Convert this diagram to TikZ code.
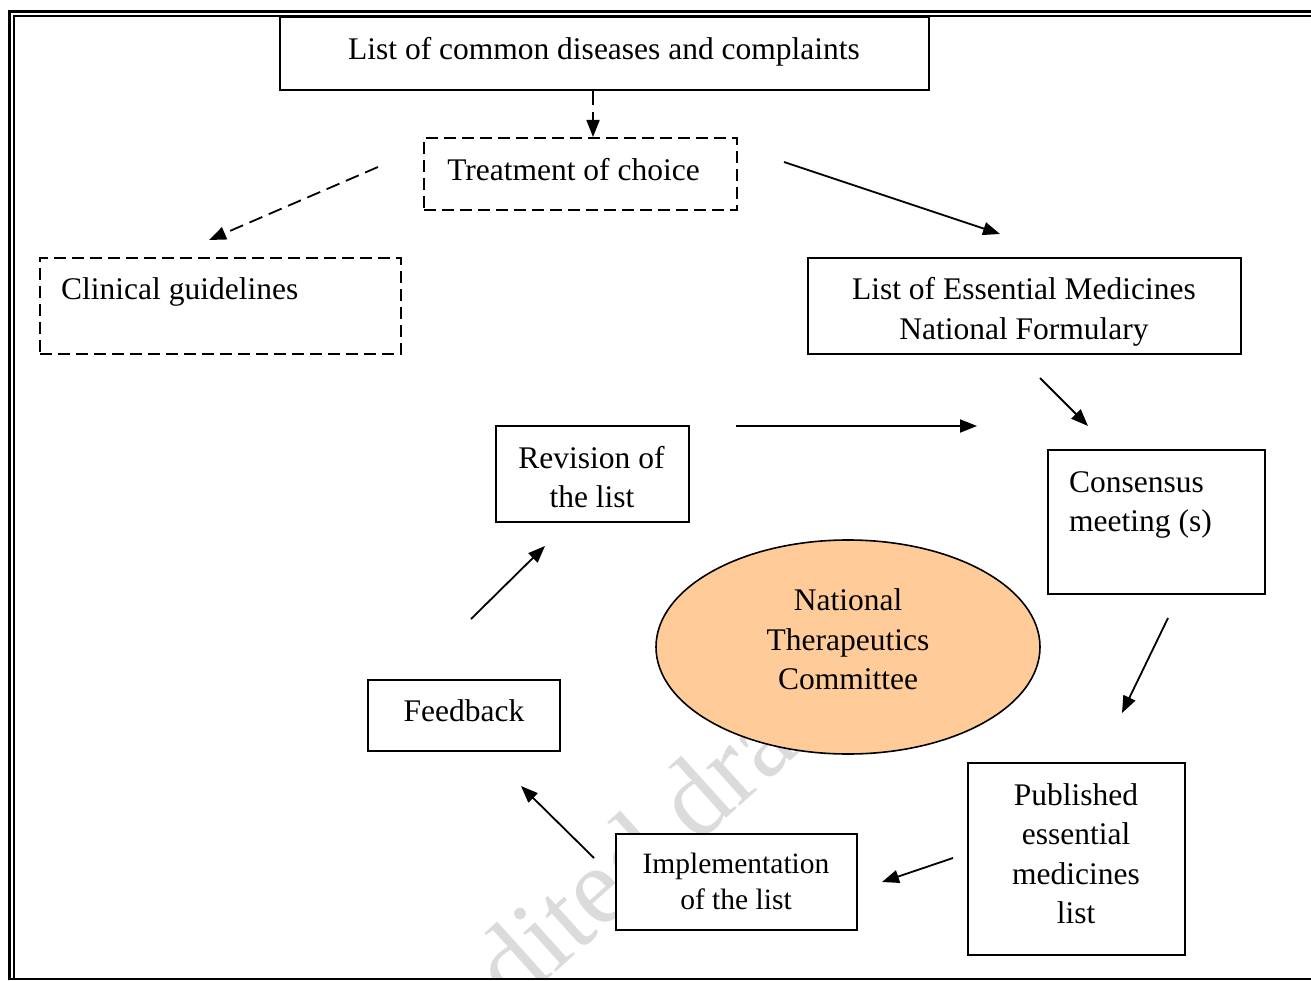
\documentclass[tikz,border=0pt]{standalone}
\usepackage{fontspec}
\setmainfont{Liberation Serif}
\usetikzlibrary{arrows.meta,shapes.geometric}
\definecolor{peach}{HTML}{FFCC99}
\definecolor{wmark}{gray}{0.86}

\begin{document}
\begin{tikzpicture}[x=1pt,y=-1pt,
  box/.style={draw=black,line width=1.6pt,fill=white,inner sep=0pt},
  dbox/.style={box,dash pattern=on 12pt off 6pt},
  lbl/.style={anchor=base,inner sep=0pt,font=\fontsize{31.5}{39}\selectfont},
  lbll/.style={lbl,anchor=base west},
  lbls/.style={lbl,font=\fontsize{29.5}{36}\selectfont},
  flow/.style={line width=1.8pt,-{Triangle[length=17pt,width=13pt]}},
  dflow/.style={flow,dash pattern=on 14pt off 7pt},
  wm/.style={text=wmark,inner sep=0pt,font=\fontsize{110}{110}\selectfont},
]
\useasboundingbox (0,0) rectangle (1311,981);

% faint draft stamp behind the chart
\begin{scope}
  \clip (15.5,17.5) rectangle (1311,977.5);
  \node[wm,rotate=42] (stamp) at (589,891) {Unedited draft};
\end{scope}

% page frame: thick outer rule, thin inner rule
\draw[line width=2.8pt] (9.7,980.3) -- (9.7,11.2) -- (1320,11.2);
\draw[line width=2pt] (14.3,978) -- (14.3,16.2) -- (1320,16.2);
\draw[line width=2.6pt] (9.7,979) -- (1320,979);

% boxes
\node[box,minimum width=649pt,minimum height=73pt] (dis) at (604.5,53.5) {};
\node[dbox,minimum width=313pt,minimum height=72pt] (treat) at (580.5,174) {};
\node[dbox,minimum width=361pt,minimum height=96pt] (clin) at (220.5,306) {};
\node[box,minimum width=433pt,minimum height=96pt] (eml) at (1024.5,306) {};
\node[box,minimum width=193pt,minimum height=96pt] (rev) at (592.5,474) {};
\node[box,minimum width=217pt,minimum height=144pt] (cons) at (1156.5,522) {};
\node[box,ellipse,fill=peach,minimum width=384pt,minimum height=214pt] (ntc) at (848,647) {};
\node[box,minimum width=192pt,minimum height=71pt] (feed) at (464,715.5) {};
\node[box,minimum width=241pt,minimum height=96pt] (impl) at (736.5,882) {};
\node[box,minimum width=217pt,minimum height=192pt] (pub) at (1076.5,859) {};

% box texts
\node[lbl] (dis-t) at (604,60) {List of common diseases and complaints};
\node[lbl] (treat-t) at (573.5,181) {Treatment of choice};
\node[lbll] (clin-t) at (61,300) {Clinical guidelines};
\node[lbl] (eml-t1) at (1024,300) {List of Essential Medicines};
\node[lbl] (eml-t2) at (1024,339) {National Formulary};
\node[lbl] (rev-t1) at (591.5,468) {Revision of};
\node[lbl] (rev-t2) at (592,507) {the list};
\node[lbll] (cons-t1) at (1069,492) {Consensus};
\node[lbll] (cons-t2) at (1069,531) {meeting (s)};
\node[lbl] (ntc-t1) at (848,610) {National};
\node[lbl] (ntc-t2) at (848,650) {Therapeutics};
\node[lbl] (ntc-t3) at (848,689) {Committee};
\node[lbl] (feed-t) at (464,721) {Feedback};
\node[lbls] (impl-t1) at (736,873) {Implementation};
\node[lbls] (impl-t2) at (736,909) {of the list};
\node[lbl] (pub-t1) at (1076,805) {Published};
\node[lbl] (pub-t2) at (1076,844) {essential};
\node[lbl] (pub-t3) at (1076,884) {medicines};
\node[lbl] (pub-t4) at (1076,923) {list};

% free ends of the connectors
\coordinate (dis-out) at (593,91);
\coordinate (treat-in) at (593,137);
\coordinate (treat-w) at (378,167);
\coordinate (clin-in) at (209,240);
\coordinate (treat-e) at (784,162);
\coordinate (eml-in) at (1000,234);
\coordinate (eml-out) at (1040,378);
\coordinate (cons-in) at (1088,426);
\coordinate (rev-out) at (736,426);
\coordinate (cons-w) at (977,426);
\coordinate (cons-out) at (1168,618);
\coordinate (pub-in) at (1122,713);
\coordinate (pub-out) at (953,858);
\coordinate (impl-in) at (882,882);
\coordinate (impl-out) at (594,858);
\coordinate (feed-in) at (521,786);
\coordinate (feed-out) at (471,619);
\coordinate (rev-in) at (545,546);

% connectors
\draw[dflow] (dis-out) -- (treat-in);
\draw[dflow] (treat-w) -- (clin-in);
\draw[flow] (treat-e) -- (eml-in);
\draw[flow] (eml-out) -- (cons-in);
\draw[flow] (rev-out) -- (cons-w);
\draw[flow] (cons-out) -- (pub-in);
\draw[flow] (pub-out) -- (impl-in);
\draw[flow] (impl-out) -- (feed-in);
\draw[flow] (feed-out) -- (rev-in);
\end{tikzpicture}
\end{document}
